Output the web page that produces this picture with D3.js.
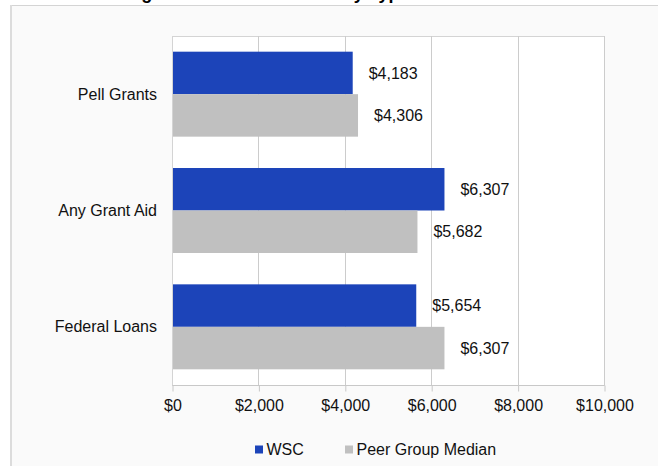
<!DOCTYPE html>
<html>
<head>
<meta charset="utf-8">
<script src="https://cdn.jsdelivr.net/npm/d3@7"></script>
<style>
  html, body { margin: 0; padding: 0; background: #ffffff; }
  svg { display: block; font-family: "Liberation Sans", Arial, sans-serif; }
</style>
</head>
<body>
<svg id="chart" width="658" height="466"></svg>
<script>
const title = "Average Financial Aid Award by Type of Aid";
const categories = ["Pell Grants", "Any Grant Aid", "Federal Loans"];
const seriesNames = ["WSC", "Peer Group Median"];
const wscValues = [4183, 6307, 5654];
const peerValues = [4306, 5682, 6307];
const tickValues = [0, 2000, 4000, 6000, 8000, 10000];
const colors = ["#1c44b9", "#c0c0c0"];

const svg = d3.select("#chart");
const W = 658, H = 466;
const plot = { left: 172, right: 604, top: 36, bottom: 385 };

// outer chart area
svg.append("rect").attr("x", 10.5).attr("y", 5.5).attr("width", W + 20).attr("height", H + 20)
  .attr("fill", "#fafafa").attr("stroke", "#d4d4d4").attr("stroke-width", 1);
svg.append("line").attr("x1", 11).attr("x2", 11).attr("y1", 5).attr("y2", H)
  .attr("stroke", "#dcdcdc").attr("stroke-width", 2);

// title (mostly clipped above the view)
svg.append("text").attr("x", 92).attr("y", -1)
  .attr("font-size", 18).attr("font-weight", "bold").attr("fill", "#000")
  .text(title);

const x = d3.scaleLinear().domain([0, 10000]).range([plot.left, plot.right]);
const y0 = d3.scaleBand().domain(categories).range([plot.top, plot.bottom]).padding(0);
const y1 = d3.scaleBand().domain(seriesNames).range([0, y0.step()]).paddingInner(0).paddingOuter(0.369);

// plot area
svg.append("rect").attr("x", plot.left + 0.5).attr("y", plot.top + 0.5)
  .attr("width", plot.right - plot.left).attr("height", plot.bottom - plot.top)
  .attr("fill", "#ffffff").attr("stroke", "#d4d4d4");

// gridlines
svg.append("g").selectAll("line").data(tickValues.slice(1)).join("line")
  .attr("x1", d => Math.round(x(d)) + 0.5).attr("x2", d => Math.round(x(d)) + 0.5)
  .attr("y1", plot.top).attr("y2", plot.bottom)
  .attr("stroke", "#cccccc").attr("stroke-width", 1);

// bars
const data = categories.map((c, i) => ({ cat: c, vals: [wscValues[i], peerValues[i]] }));
const groups = svg.append("g").selectAll("g").data(data).join("g")
  .attr("transform", d => `translate(0,${y0(d.cat)})`);

groups.selectAll("rect").data(d => d.vals.map((v, j) => ({ s: seriesNames[j], v, j }))).join("rect")
  .attr("x", x(0) + 1)
  .attr("y", d => y1(d.s))
  .attr("width", d => x(d.v) - x(0) - 1)
  .attr("height", y1.bandwidth())
  .attr("fill", d => colors[d.j]);

groups.selectAll("text").data(d => d.vals.map((v, j) => ({ s: seriesNames[j], v, j }))).join("text")
  .attr("x", d => x(d.v) + 16)
  .attr("y", d => y1(d.s) + y1.bandwidth() / 2)
  .attr("dy", "0.35em")
  .attr("font-size", 16).attr("fill", "#111")
  .text(d => d3.format("$,")(d.v));

// category labels
svg.append("g").selectAll("text").data(categories).join("text")
  .attr("x", 157).attr("y", d => y0(d) + y0.bandwidth() / 2)
  .attr("dy", "0.35em").attr("text-anchor", "end")
  .attr("font-size", 16).attr("fill", "#111")
  .text(d => d);

// x axis
const xAxis = d3.axisBottom(x).tickValues(tickValues).tickFormat(d3.format("$,")).tickSize(6).tickPadding(8);
const ax = svg.append("g").attr("transform", `translate(0.5,${plot.bottom + 0.5})`).call(xAxis);
ax.select(".domain").attr("stroke", "#c8c8c8").attr("d", `M${plot.left},0H${plot.right}`);
ax.selectAll(".tick line").attr("stroke", "#c8c8c8");
ax.selectAll(".tick text").attr("font-size", 16).attr("fill", "#111")
  .attr("font-family", "Liberation Sans, Arial, sans-serif");

// legend
const legendItems = [
  { name: seriesNames[0], color: colors[0], x: 255 },
  { name: seriesNames[1], color: colors[1], x: 345 }
];
const lg = svg.append("g").selectAll("g").data(legendItems).join("g")
  .attr("transform", d => `translate(${d.x},445.5)`);
lg.append("rect").attr("width", 8).attr("height", 8).attr("fill", d => d.color);
lg.append("text").attr("x", 11.5).attr("y", 4).attr("dy", "0.35em")
  .attr("font-size", 16).attr("fill", "#111").text(d => d.name);
</script>
</body>
</html>
